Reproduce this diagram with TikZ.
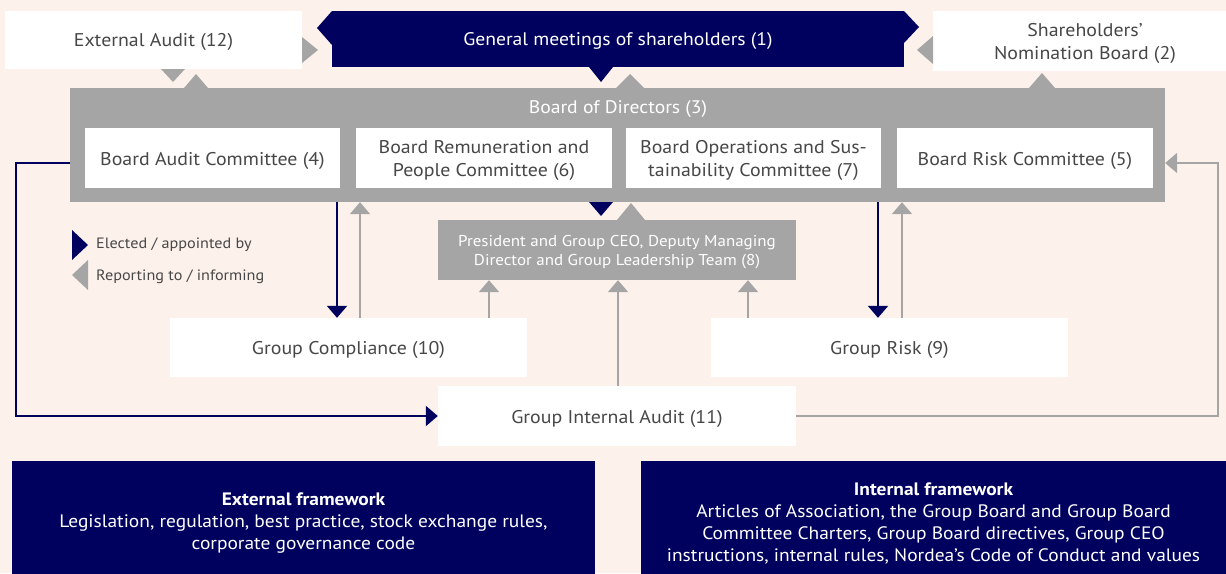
\documentclass[tikz,border=0pt]{standalone}
\usepackage{fontspec}
\setmainfont[FakeStretch=1.08]{PT Sans}
\usetikzlibrary{arrows.meta,calc}
\definecolor{bgc}{HTML}{FDF1EC}
\definecolor{navy}{HTML}{00005E}
\definecolor{greyc}{HTML}{A5A5A5}
\definecolor{txt}{HTML}{474747}
\begin{document}
\begin{tikzpicture}[x=1pt,y=-1pt,
  box/.style={fill=white, draw=none, inner sep=0pt},
  navybox/.style={fill=navy, draw=none, inner sep=0pt},
  greybox/.style={fill=greyc, draw=none, inner sep=0pt},
  boxtext/.style={text=txt, inner sep=0pt, align=center,
    font=\fontsize{18.4}{23}\selectfont},
  whitetext/.style={text=white, inner sep=0pt, align=center,
    font=\fontsize{18.2}{22}\selectfont},
  ceotext/.style={text=white, inner sep=0pt, align=center,
    font=\fontsize{15.7}{19.5}\selectfont},
  frametext/.style={text=white, inner sep=0pt, align=center,
    font=\fontsize{18}{22}\selectfont},
  legendtext/.style={text=txt, inner sep=0pt, anchor=west, font=\fontsize{15}{18}\selectfont},
  navyarrow/.style={draw=navy, line width=2.3pt, -{Triangle[width=20pt,length=12pt]}},
  greyarrow/.style={draw=greyc, line width=2.3pt, -{Triangle[width=20pt,length=12pt]}},
]
\clip (0,0) rectangle (1226,573);
\fill[bgc] (0,0) rectangle (1226,573);

% ---- top row
\node[box, minimum width=297pt, minimum height=58pt] (ea) at (153.5,40) {};
\node[boxtext] (eatext) at ($(ea.center)+(0,2)$) {External Audit (12)};
\node[navybox, minimum width=572pt, minimum height=56pt] (gm) at (618,39) {};
\node[whitetext] (gmtext) at ($(gm.center)+(0,2.5)$) {General meetings of shareholders (1)};
\node[box, minimum width=304pt, minimum height=60pt] (snb) at (1085,41) {};
\node[boxtext] (snbtext) at ($(snb.center)+(0,2.5)$) {Shareholders’\\Nomination Board (2)};

% ---- board of directors and its committees
\node[greybox, minimum width=1095pt, minimum height=114pt] (board) at (617.5,145) {};
\node[whitetext] (boardtext) at (618,109) {Board of Directors (3)};
\node[box, minimum width=255pt, minimum height=60pt] (bac) at (212.5,158) {};
\node[boxtext] (bactext) at ($(bac.center)+(0,2.5)$) {Board Audit Committee (4)};
\node[box, minimum width=256pt, minimum height=60pt] (brc) at (484,158) {};
\node[boxtext] (brctext) at ($(brc.center)+(0,2.5)$) {Board Remuneration and\\People Committee (6)};
\node[box, minimum width=255pt, minimum height=60pt] (boc) at (753.5,158) {};
\node[boxtext] (boctext) at ($(boc.center)+(0,2.5)$) {Board Operations and Sus-\\tainability Committee (7)};
\node[box, minimum width=256pt, minimum height=60pt] (bric) at (1025,158) {};
\node[boxtext] (brictext) at ($(bric.center)+(0,2.5)$) {Board Risk Committee (5)};

% ---- management and control functions
\node[greybox, minimum width=358pt, minimum height=60pt] (ceo) at (617,250) {};
\node[ceotext] (ceotxt) at ($(ceo.center)+(0,2)$) {President and Group CEO, Deputy Managing\\Director and Group Leadership Team (8)};
\node[box, minimum width=357pt, minimum height=59pt] (gc) at (348.5,347.5) {};
\node[boxtext] (gctext) at ($(gc.center)+(0,2.5)$) {Group Compliance (10)};
\node[box, minimum width=357pt, minimum height=59pt] (gr) at (889.5,347.5) {};
\node[boxtext] (grtext) at ($(gr.center)+(0,2.5)$) {Group Risk (9)};
\node[box, minimum width=358pt, minimum height=60pt] (gia) at (617,416) {};
\node[boxtext] (giatext) at ($(gia.center)+(0,2.5)$) {Group Internal Audit (11)};

% ---- frameworks
\node[navybox, minimum width=583pt, minimum height=120pt] (extf) at (303.5,521) {};
\node[frametext] (extftext) at ($(extf.center)+(0,2)$)
  {\textbf{External framework}\\Legislation, regulation, best practice, stock exchange rules,\\corporate governance code};
\node[navybox, minimum width=585pt, minimum height=120pt] (intf) at (933.5,521) {};
\node[frametext] (intftext) at ($(intf.center)+(0,2)$)
  {\textbf{Internal framework}\\Articles of Association, the Group Board and Group Board\\Committee Charters, Group Board directives, Group CEO\\instructions, internal rules, Nordea’s Code of Conduct and values};

% ---- triangle markers between the top boxes and the board
\fill[navy] (332,11) -- (317,28) -- (332,45) -- cycle;
\fill[navy] (904,11) -- (919,27) -- (904,43) -- cycle;
\fill[greyc] (302,37) -- (318,50) -- (302,63) -- cycle;
\fill[greyc] (933,36) -- (917,50) -- (933,64) -- cycle;
\fill[greyc] (161,69) -- (173,82) -- (185,69) -- cycle;
\fill[greyc] (184,88) -- (196,74) -- (208,88) -- cycle;
\fill[navy] (589,67) -- (601,82) -- (613,67) -- cycle;
\fill[greyc] (616,88) -- (630,74) -- (644,88) -- cycle;
\fill[greyc] (1029,88) -- (1042,73) -- (1055,88) -- cycle;
\fill[navy] (589,202) -- (601,216) -- (613,202) -- cycle;
\fill[greyc] (617,220) -- (631,203) -- (645,220) -- cycle;

% ---- legend
\fill[navy] (72,230) -- (88,245) -- (72,260) -- cycle;
\fill[greyc] (88,260) -- (72,275) -- (88,290) -- cycle;
\node[legendtext] (lg1) at (96,245) {Elected / appointed by};
\node[legendtext] (lg2) at (96,277) {Reporting to / informing};

% ---- connector columns
\coordinate (c1) at (337,0);
\coordinate (c2) at (360,0);
\coordinate (c3) at (489,0);
\coordinate (c4) at (618,0);
\coordinate (c5) at (748,0);
\coordinate (c6) at (878,0);
\coordinate (c7) at (902,0);
\coordinate (xl) at (16,0);
\coordinate (xr) at (1218,0);
\coordinate (ya) at (0,163);

\draw[navyarrow] (board.south -| c1) -- (gc.north -| c1);
\draw[greyarrow] (gc.north -| c2) -- (board.south -| c2);
\draw[greyarrow] (gc.north -| c3) -- (ceo.south -| c3);
\draw[greyarrow] (gia.north -| c4) -- (ceo.south -| c4);
\draw[greyarrow] (gr.north -| c5) -- (ceo.south -| c5);
\draw[navyarrow] (board.south -| c6) -- (gr.north -| c6);
\draw[greyarrow] (gr.north -| c7) -- (board.south -| c7);

\draw[navyarrow] (ya -| board.west) -- (ya -| xl) -- (gia.west -| xl) -- (gia.west);
\draw[greyarrow] (gia.east) -- (gia.east -| xr) -- (ya -| xr) -- (ya -| board.east);
\end{tikzpicture}
\end{document}
